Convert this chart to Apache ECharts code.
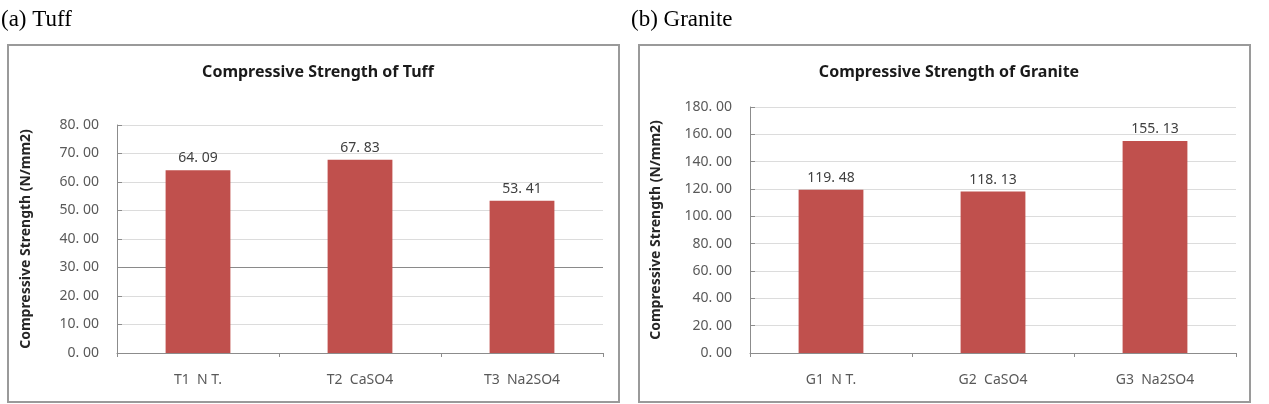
<!DOCTYPE html>
<html>
<head>
<meta charset="utf-8">
<script src="https://cdn.jsdelivr.net/npm/echarts@6/dist/echarts.min.js"></script>
<style>html,body{margin:0;padding:0;background:#fff;}#c{width:1269px;height:404px;}</style>
</head>
<body>
<div id="c"></div>
<script>
const tuffCategories = ['T1  N T.', 'T2  CaSO4', 'T3  Na2SO4'];
const tuffValues = [64.09, 67.83, 53.41];
const graniteCategories = ['G1  N T.', 'G2  CaSO4', 'G3  Na2SO4'];
const graniteValues = [119.48, 118.13, 155.13];
const tuffTitle = 'Compressive Strength of Tuff';
const graniteTitle = 'Compressive Strength of Granite';
const yName = 'Compressive Strength (N/mm2)';
const panelLabels = ['(a) Tuff', '(b) Granite'];

const fmt = v => v.toFixed(2).replace('.', '. ');
const labelFont = 'Noto Sans';
const txtColor = '#595959';
const barColor = '#C0504D';

function yAxis(gi, max, interval, gap, darkIdx) {
  const n = max / interval + 1;
  const colors = [];
  for (let i = 0; i < n; i++) colors.push(i === darkIdx ? '#8a8a8a' : '#dcdcdc');
  return {
    gridIndex: gi, type: 'value', min: 0, max: max, interval: interval,
    name: yName, nameLocation: 'middle', nameGap: gap, nameRotate: 90,
    nameTextStyle: { fontFamily: labelFont, fontWeight: 'bold', fontSize: 14, color: '#262626' },
    axisLine: { show: true, lineStyle: { color: '#8c8c8c', width: 1 } },
    axisTick: { show: true, inside: true, length: 5, lineStyle: { color: '#8c8c8c' } },
    axisLabel: { formatter: fmt, fontFamily: labelFont, fontSize: 14, color: txtColor, margin: 18 },
    splitLine: { show: true, lineStyle: { color: colors, width: 1 } }
  };
}
function xAxis(gi, cats) {
  return {
    gridIndex: gi, type: 'category', data: cats,
    axisLine: { lineStyle: { color: '#8c8c8c' } },
    axisTick: { show: true, length: 4, lineStyle: { color: '#8c8c8c' } },
    axisLabel: { fontFamily: labelFont, fontSize: 14, color: txtColor, margin: 20 }
  };
}
function series(i, vals) {
  return {
    type: 'bar', xAxisIndex: i, yAxisIndex: i, data: vals, barWidth: '40%',
    itemStyle: { color: barColor },
    label: { show: true, position: 'top', distance: 5, formatter: p => fmt(p.value),
      fontFamily: labelFont, fontSize: 14, color: '#404040' }
  };
}

const chart = echarts.init(document.getElementById('c'), null, { renderer: 'canvas' });
chart.setOption({
  animation: false,
  backgroundColor: '#fff',
  title: [
    { text: panelLabels[0], left: -4, top: 3, textStyle: { fontFamily: 'Liberation Serif', fontWeight: 'normal', fontSize: 23, color: '#000' } },
    { text: panelLabels[1], left: 626, top: 3, textStyle: { fontFamily: 'Liberation Serif', fontWeight: 'normal', fontSize: 23, color: '#000' } },
    { text: tuffTitle, left: 313, textAlign: 'center', top: 59, textStyle: { fontFamily: labelFont, fontWeight: 'bold', fontSize: 16, color: '#1a1a1a' } },
    { text: graniteTitle, left: 944, textAlign: 'center', top: 59, textStyle: { fontFamily: labelFont, fontWeight: 'bold', fontSize: 16, color: '#1a1a1a' } }
  ],
  graphic: [
    { type: 'rect', shape: { x: 8, y: 45, width: 611, height: 357 }, style: { fill: 'none', stroke: '#9a9a9a', lineWidth: 2 }, z: -1 },
    { type: 'rect', shape: { x: 639, y: 45, width: 611, height: 357 }, style: { fill: 'none', stroke: '#9a9a9a', lineWidth: 2 }, z: -1 }
  ],
  grid: [
    { left: 117, top: 125, width: 486, height: 228 },
    { left: 750, top: 107, width: 486, height: 246 }
  ],
  xAxis: [xAxis(0, tuffCategories), xAxis(1, graniteCategories)],
  yAxis: [yAxis(0, 80, 10, 84, 3), yAxis(1, 180, 20, 87, -1)],
  series: [series(0, tuffValues), series(1, graniteValues)]
});
</script>
</body>
</html>
